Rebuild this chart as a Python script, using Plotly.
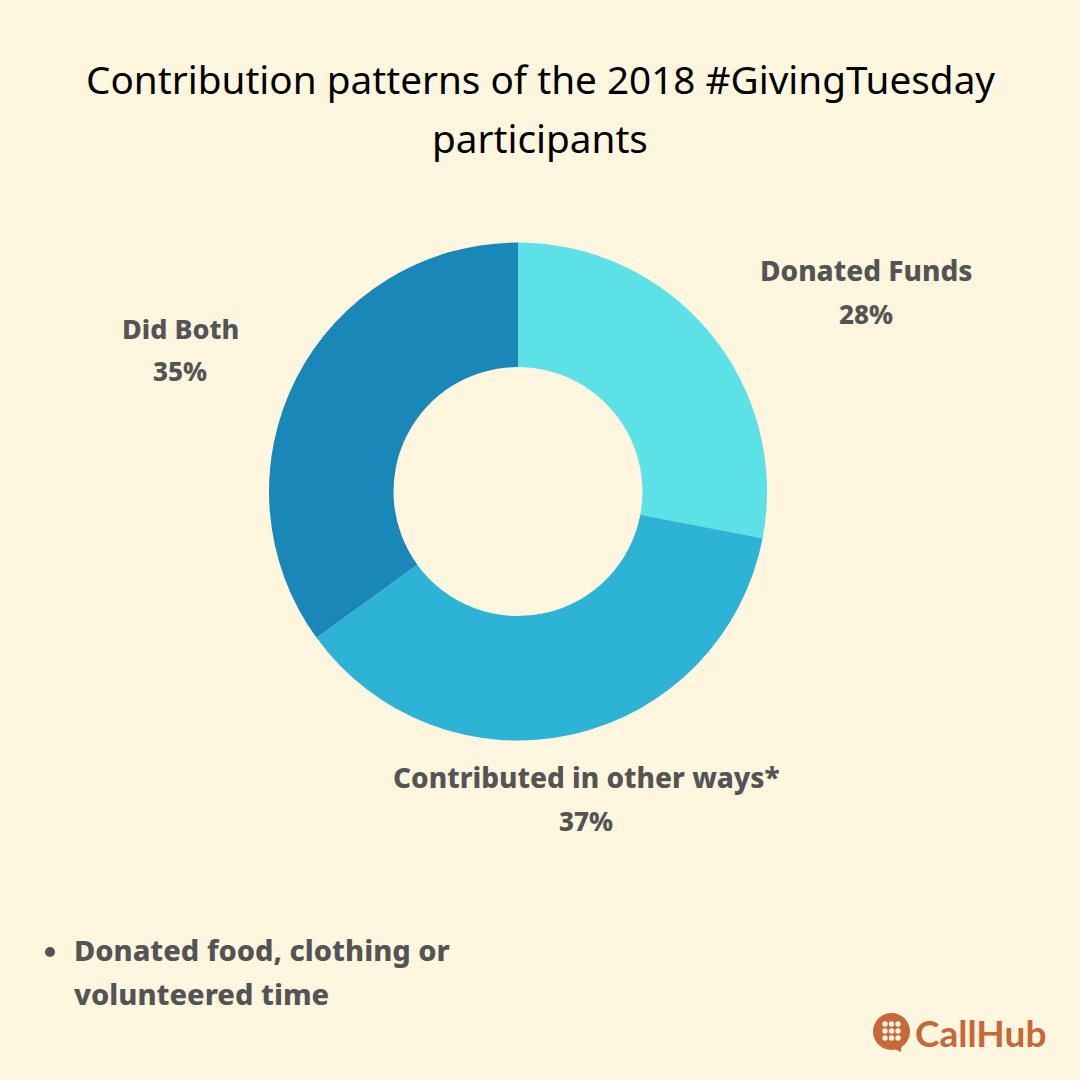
import plotly.graph_objects as go

labels = ["Donated Funds", "Contributed in other ways*", "Did Both"]
values = [28, 37, 35]
colors = ["#5CE1E6", "#2CB3D5", "#1A87B9"]
title_lines = ["Contribution patterns of the 2018 #GivingTuesday", "participants"]
note_lines = ["Donated food, clothing or", "volunteered time"]
BG = "#FFF6DF"
GREY = "#545454"
ORANGE = "#C8673A"
F = "Noto Sans"
TF = "Noto Sans"

fig = go.Figure(go.Pie(
    labels=labels, values=values, hole=0.5, sort=False, direction="clockwise", rotation=0,
    marker=dict(colors=colors, line=dict(width=0)), textinfo="none", showlegend=False,
    domain=dict(x=[269/1080, 767/1080], y=[1-741/1080, 1-242/1080]),
))

def t(x, y, s, size, color=GREY, weight=800, anchor="center", family=F):
    fig.add_annotation(x=x/1080, y=1-y/1080, xref="paper", yref="paper", text=s,
                       showarrow=False, xanchor=anchor, yanchor="middle",
                       font=dict(family=family, size=size, color=color, weight=weight))

def circ(cx, cy, r, color):
    fig.add_shape(type="circle", xref="paper", yref="paper", x0=(cx-r)/1080, x1=(cx+r)/1080,
                  y0=1-(cy+r)/1080, y1=1-(cy-r)/1080, fillcolor=color, line_width=0)

t(540, 79, title_lines[0], 38.7, "#000000", 400, family=TF)
t(540, 138, title_lines[1], 38.7, "#000000", 400, family=TF)
t(866, 270, labels[0], 28)
t(866, 314, f"{values[0]}%", 26)
t(180, 328, labels[2], 27)
t(180, 371, f"{values[2]}%", 26)
t(586.5, 777, labels[1], 28)
t(586, 821, f"{values[1]}%", 26)
t(72, 949, note_lines[0], 29, anchor="left")
t(72, 993, note_lines[1], 29, anchor="left")
circ(50, 952, 5, GREY)

# CallHub logo
t(1048, 1032, "CallHub", 37, ORANGE, 700, "right", family="Lato")
circ(891.5, 1031.5, 18.5, ORANGE)
fig.add_shape(type="path", xref="paper", yref="paper", line_width=0, fillcolor=ORANGE,
              path=" ".join([f"M {888/1080} {1-1046/1080}", f"L {901/1080} {1-1052/1080}",
                             f"L {902/1080} {1-1042/1080}", "Z"]))
for cx in (885, 891.5, 898):
    for cy in (1024, 1031, 1038):
        circ(cx, cy, 2.7, BG)

fig.update_layout(width=1080, height=1080, margin=dict(l=0, r=0, t=0, b=0), paper_bgcolor=BG, plot_bgcolor=BG)
fig.write_html("out.html", config=dict(displayModeBar=False),
               post_script="document.body.style.margin='0';document.body.style.background='#FFF6DF';")
